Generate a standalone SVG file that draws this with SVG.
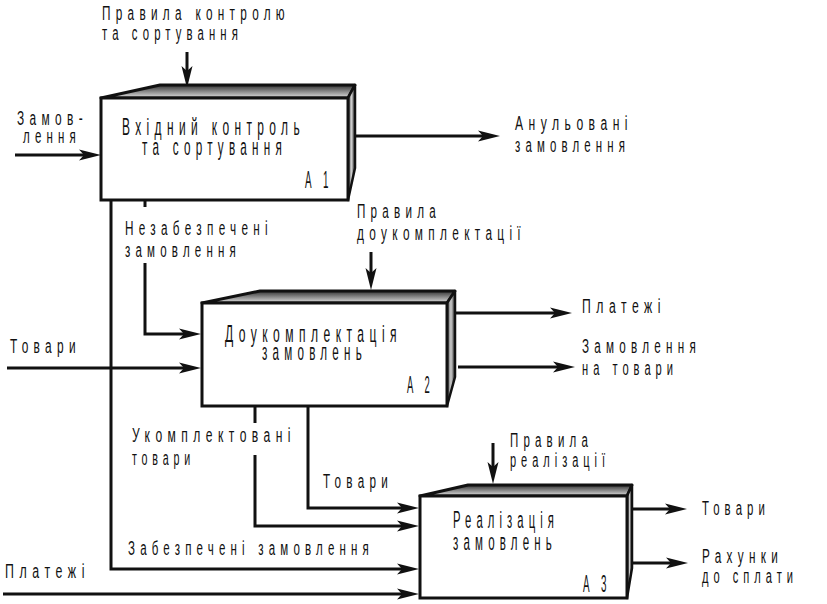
<svg xmlns="http://www.w3.org/2000/svg" width="827" height="604" viewBox="0 0 827 604">
<style>
text{font-family:"Liberation Sans","DejaVu Sans",sans-serif;fill:#111;letter-spacing:0.45em}
.lb{font-size:21px}
.bx{font-size:23.5px}
.front{fill:#fff;stroke:#111;stroke-width:3}
.top{fill:url(#gTop);stroke:#111;stroke-width:3;stroke-linejoin:round}
.side{fill:url(#gSide);stroke:#111;stroke-width:2.5;stroke-linejoin:round}
.c{fill:none;stroke:#111;stroke-width:3;marker-end:url(#ah)}
.s{fill:none;stroke:#111;stroke-width:3}
</style>
<defs>
<linearGradient id="gTop" x1="0" y1="0" x2="0" y2="1">
<stop offset="0" stop-color="#333"/>
<stop offset="0.5" stop-color="#8a8a8a"/>
<stop offset="1" stop-color="#e0e0e0"/>
</linearGradient>
<linearGradient id="gSide" x1="0" y1="0" x2="1" y2="0">
<stop offset="0" stop-color="#555"/>
<stop offset="0.5" stop-color="#ccc"/>
<stop offset="1" stop-color="#333"/>
</linearGradient>
<marker id="ah" markerUnits="userSpaceOnUse" viewBox="-13 -6 24 12" refX="0" refY="0" markerWidth="24" markerHeight="12" orient="auto" overflow="visible">
<path d="M10,0 L-12,-5.5 L-7,0 L-12,5.5 Z" fill="#111"/>
</marker>
</defs>
<rect width="827" height="604" fill="#fff"/>

<g id="connectors">
<path class="c" d="M187,52 V78"/>
<path class="c" d="M15,155 H91"/>
<path class="c" d="M355,136 H490"/>
<path class="s" d="M145,200 V207"/>
<path class="c" d="M145,263 V334 H191"/>
<path class="c" d="M371,252 V280"/>
<path class="c" d="M7,368 H191"/>
<path class="c" d="M455,313 H562"/>
<path class="c" d="M458,367 H565"/>
<path class="c" d="M308,406 V508 H409"/>
<path class="s" d="M255,406 V423"/>
<path class="c" d="M255,455 V526 H409"/>
<path class="c" d="M493,443 V474"/>
<path class="c" d="M111,200 V569 H409"/>
<path class="c" d="M3,594 H409"/>
<path class="c" d="M632,509 H677"/>
<path class="c" d="M632,563 H678"/>
</g>

<g id="node-A1">
<polygon class="top" points="101,98 160,85 355,85 348,98"/>
<polygon class="side" points="348,98 355,85 355,168 348,200"/>
<rect class="front" x="101" y="98" width="247" height="102"/>
<text class="bx" transform="scale(0.5 1)" x="244" y="135" textLength="366" lengthAdjust="spacingAndGlyphs">Вхідний контроль</text>
<text class="bx" transform="scale(0.5 1)" x="284" y="155" textLength="290" lengthAdjust="spacingAndGlyphs">та сортування</text>
<text class="bx" transform="scale(0.5 1)" x="610" y="188" textLength="56" lengthAdjust="spacingAndGlyphs">А 1</text>
</g>

<g id="node-A2">
<polygon class="top" points="202,303 260,291 455,291 447,303"/>
<polygon class="side" points="447,303 455,291 455,377 447,406"/>
<rect class="front" x="202" y="303" width="245" height="103"/>
<text class="bx" transform="scale(0.5 1)" x="450" y="342" textLength="354" lengthAdjust="spacingAndGlyphs">Доукомплектація</text>
<text class="bx" transform="scale(0.5 1)" x="524" y="360" textLength="210" lengthAdjust="spacingAndGlyphs">замовлень</text>
<text class="bx" transform="scale(0.5 1)" x="814" y="393" textLength="54" lengthAdjust="spacingAndGlyphs">А 2</text>
</g>

<g id="node-A3">
<polygon class="top" points="420,496 468,485 632,485 627,496"/>
<polygon class="side" points="627,496 632,485 632,568 627,598"/>
<rect class="front" x="420" y="496" width="207" height="102"/>
<text class="bx" transform="scale(0.5 1)" x="906" y="528" textLength="212" lengthAdjust="spacingAndGlyphs">Реалізація</text>
<text class="bx" transform="scale(0.5 1)" x="906" y="550" textLength="208" lengthAdjust="spacingAndGlyphs">замовлень</text>
<text class="bx" transform="scale(0.5 1)" x="1166" y="592" textLength="56" lengthAdjust="spacingAndGlyphs">А 3</text>
</g>

<g id="labels">
<text class="lb" transform="scale(0.5 1)" x="204" y="20" textLength="376" lengthAdjust="spacingAndGlyphs">Правила контролю</text>
<text class="lb" transform="scale(0.5 1)" x="204" y="40" textLength="282" lengthAdjust="spacingAndGlyphs">та сортування</text>
<text class="lb" transform="scale(0.5 1)" x="34" y="125" textLength="142" lengthAdjust="spacingAndGlyphs">Замов-</text>
<text class="lb" transform="scale(0.5 1)" x="46" y="143" textLength="116" lengthAdjust="spacingAndGlyphs">лення</text>
<text class="lb" transform="scale(0.5 1)" x="1030" y="130" textLength="236" lengthAdjust="spacingAndGlyphs">Анульовані</text>
<text class="lb" transform="scale(0.5 1)" x="1030" y="152" textLength="230" lengthAdjust="spacingAndGlyphs">замовлення</text>
<text class="lb" transform="scale(0.5 1)" x="250" y="235" textLength="296" lengthAdjust="spacingAndGlyphs">Незабезпечені</text>
<text class="lb" transform="scale(0.5 1)" x="250" y="257" textLength="232" lengthAdjust="spacingAndGlyphs">замовлення</text>
<text class="lb" transform="scale(0.5 1)" x="714" y="218" textLength="168" lengthAdjust="spacingAndGlyphs">Правила</text>
<text class="lb" transform="scale(0.5 1)" x="714" y="240" textLength="338" lengthAdjust="spacingAndGlyphs">доукомплектації</text>
<text class="lb" transform="scale(0.5 1)" x="20" y="353" textLength="142" lengthAdjust="spacingAndGlyphs">Товари</text>
<text class="lb" transform="scale(0.5 1)" x="1164" y="313" textLength="168" lengthAdjust="spacingAndGlyphs">Платежі</text>
<text class="lb" transform="scale(0.5 1)" x="1164" y="353" textLength="238" lengthAdjust="spacingAndGlyphs">Замовлення</text>
<text class="lb" transform="scale(0.5 1)" x="1164" y="375" textLength="192" lengthAdjust="spacingAndGlyphs">на товари</text>
<text class="lb" transform="scale(0.5 1)" x="264" y="442" textLength="328" lengthAdjust="spacingAndGlyphs">Укомплектовані</text>
<text class="lb" transform="scale(0.5 1)" x="264" y="465" textLength="126" lengthAdjust="spacingAndGlyphs">товари</text>
<text class="lb" transform="scale(0.5 1)" x="646" y="488" textLength="140" lengthAdjust="spacingAndGlyphs">Товари</text>
<text class="lb" transform="scale(0.5 1)" x="1020" y="447" textLength="166" lengthAdjust="spacingAndGlyphs">Правила</text>
<text class="lb" transform="scale(0.5 1)" x="1020" y="467" textLength="200" lengthAdjust="spacingAndGlyphs">реалізації</text>
<text class="lb" transform="scale(0.5 1)" x="256" y="555" textLength="492" lengthAdjust="spacingAndGlyphs">Забезпечені замовлення</text>
<text class="lb" transform="scale(0.5 1)" x="10" y="578" textLength="170" lengthAdjust="spacingAndGlyphs">Платежі</text>
<text class="lb" transform="scale(0.5 1)" x="1404" y="515" textLength="136" lengthAdjust="spacingAndGlyphs">Товари</text>
<text class="lb" transform="scale(0.5 1)" x="1404" y="563" textLength="162" lengthAdjust="spacingAndGlyphs">Рахунки</text>
<text class="lb" transform="scale(0.5 1)" x="1404" y="583" textLength="192" lengthAdjust="spacingAndGlyphs">до сплати</text>
</g>
</svg>
